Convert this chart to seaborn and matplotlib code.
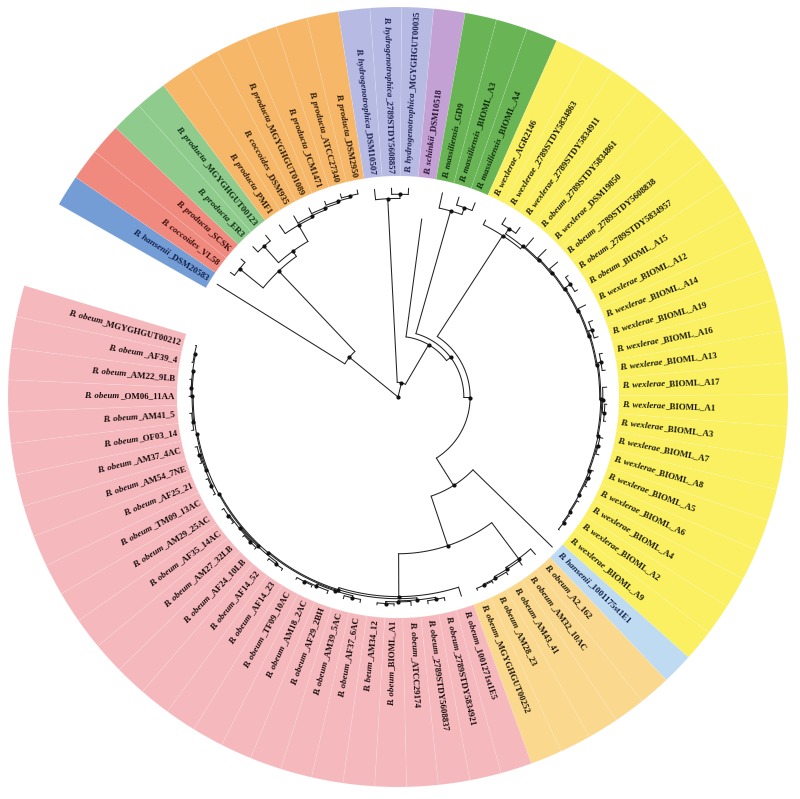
import numpy as np
import matplotlib
matplotlib.use("Agg")
import matplotlib.pyplot as plt
import seaborn as sns
from matplotlib.font_manager import FontProperties

# leaves, clockwise from the opening of the circle
species = ["B. hansenii", "B. coccoides", "B. producta", "B. producta", "B. producta",
           "B. producta", "B. coccoides", "B. producta", "B. producta", "B. producta", "B. producta",
           "B. hydrogenotrophica", "B. hydrogenotrophica", "B. hydrogenotrophica", "B. schinkii",
           "B. massiliensis", "B. massiliensis", "B. massiliensis",
           "B. wexlerae", "B. wexlerae", "B. wexlerae", "B. obeum", "B. wexlerae", "B. obeum",
           "B. obeum", "B. obeum", "B. wexlerae", "B. wexlerae", "B. wexlerae", "B. wexlerae",
           "B. wexlerae", "B. wexlerae", "B. wexlerae", "B. wexlerae", "B. wexlerae", "B. wexlerae",
           "B. wexlerae", "B. wexlerae", "B. wexlerae", "B. wexlerae", "B. wexlerae",
           "B. hansenii", "B. obeum", "B. obeum", "B. obeum", "B. obeum", "B. obeum",
           "B. obeum", "B. obeum", "B. obeum", "B. obeum", "B. obeum", "B. beum", "B. obeum",
           "B. obeum", "B. obeum", "B. obeum", "B. obeum", "B. obeum", "B. obeum", "B. obeum",
           "B. obeum", "B. obeum", "B. obeum", "B. obeum", "B. obeum", "B. obeum", "B. obeum",
           "B. obeum", "B. obeum", "B. obeum", "B. obeum", "B. obeum", "B. obeum"]
strains = ["_DSM20583", "_VL58", "_SCSK", "_ER3", "_MGYGHGUT00123",
           "_PMF1", "_DSM935", "_MGYGHGUT01089", "_JCM1471", "_ATCC27340", "_DSM2950",
           "_DSM10507", "_2789STDY5608857", "_MGYGHGUT00035", "_DSM10518",
           "_GD9", "_BIOML_A3", "_BIOML_A4",
           "_AGR2146", "_2789STDY5834863", "_2789STDY5834911", "_2789STDY5834861", "_DSM19850",
           "_2789STDY5608838", "_2789STDY5834957", "_BIOML_A15", "_BIOML_A12", "_BIOML_A14",
           "_BIOML_A19", "_BIOML_A16", "_BIOML_A13", "_BIOML_A17", "_BIOML_A1", "_BIOML_A3",
           "_BIOML_A7", "_BIOML_A8", "_BIOML_A5", "_BIOML_A6", "_BIOML_A4", "_BIOML_A2", "_BIOML_A9",
           "_1001175st1E1", "_A2_162", "_AM32_10AC", "_AM43_41", "_AM28_23", "_MGYGHGUT00252",
           "_1001271st1E5", "_2789STDY5834921", "_2789STDY5608837", "_ATCC29174", "_BIOML_A1",
           "_AM34_12", "_AF37_6AC", "_AM39_5AC", "_AF29_2BH", "_AM18_2AC", "_TF09_10AC",
           "_AF14_23", "_AF14_52", "_AF24_10LB", "_AM27_32LB", "_AF35_14AC", "_AM29_25AC",
           "_TM09_13AC", "_AF25_21", "_AM54_7NE", "_AM37_4AC", "_OF03_14", "_AM41_5",
           "_OM06_11AA", "_AM22_9LB", "_AF39_4", "_MGYGHGUT00212"]

# coloured clades (run lengths over the leaf order)
group_sizes = [1, 2, 2, 6, 3, 1, 3, 23, 1, 5, 27]
group_fill = ["#749dd6", "#f0897e", "#8ecb8d", "#f6b769", "#b7bbe4", "#c4a1d4",
              "#69b556", "#faf061", "#bfdbf1", "#fad88d", "#f5b9bd"]
group_text = ["#0e1f4a", "#3d0d0a", "#0f2e12", "#2b1a05", "#1b2050", "#2a1236",
              "#0f2a0a", "#1a1a08", "#0e1f4a", "#1f1808", "#1a0c0e"]

# tree, newick style: leaf = index in the lists above, number after ':' = distance from root
left_clade = ("(0:1.02,((1:1.0,2:1.0):0.975,((3:1.0,4:1.0):0.965,(5:1.0,(6:1.0,(7:1.0,(8:1.0,"
              "(9:1.01,10:1.01):0.99):0.98):0.97):0.96):0.95):0.86):0.83):0.30")
hydro_clade = "(11:1.0,(12:1.0,13:1.0):0.97):0.95"
mass_clade = "(15:1.0,(16:1.0,17:1.0):0.96):0.925"
yellow_clade = ("(18:0.945,((19:1.0,20:1.0):0.965,(21:1.0,(22:1.0,(23:1.0,((24:1.0,25:1.0):0.985,"
                "(26:1.0,((27:1.0,28:1.0):0.98,((29:1.0,30:1.0):0.985,((31:1.0,(32:1.0,33:1.0):0.99):0.98,"
                "((34:1.0,35:1.0):0.985,((36:1.0,37:1.0):0.99,(38:1.0,(39:1.0,40:1.0):0.995):0.99):0.985)"
                ":0.98):0.975):0.97):0.965):0.96):0.955):0.95):0.945):0.94):0.935):0.92")
lorange_clade = "(42:1.0,(43:1.0,(44:1.0,(45:1.0,46:1.0):0.99):0.985):0.975):0.965"
pink_clade = ("(47:1.0,(((48:1.0,49:1.0):0.985,(50:1.0,(51:1.0,52:1.0):0.99):0.98):0.975,"
              "(((53:1.0,54:1.0):0.985,(55:1.0,(56:1.0,57:1.0):0.99):0.985):0.975,"
              "(((58:1.0,59:1.0):0.99,((60:1.0,61:1.0):0.99,(62:1.0,63:1.0):0.99):0.985):0.98,"
              "(((64:1.0,65:1.0):0.99,(66:1.0,67:1.0):0.99):0.985,((68:1.0,69:1.0):0.99,"
              "((70:1.0,71:1.0):0.99,(72:1.0,73:1.0):0.995):0.99):0.985):0.98):0.975):0.97):0.965):0.955")
bottom_clade = "(41:1.03,(" + lorange_clade + "," + pink_clade + "):0.75):0.50"
right_clade = ("(" + hydro_clade + ",(14:0.86,(" + mass_clade + ",(" + yellow_clade + ","
               + bottom_clade + "):0.345):0.315):0.29):0.07")
tree_nwk = "(" + left_clade + "," + right_clade + "):0.0"


def parse(s):
    pos = 0

    def node():
        nonlocal pos
        if s[pos] == "(":
            pos += 1
            kids = [node()]
            while s[pos] == ",":
                pos += 1
                kids.append(node())
            pos += 1
        else:
            j = pos
            while s[pos] not in ":,)":
                pos += 1
            kids = int(s[j:pos])
        pos += 1
        j = pos
        while pos < len(s) and s[pos] not in ",)":
            pos += 1
        return kids, float(s[j:pos])

    return node()


sns.set_theme(style="white")
plt.rcParams["font.family"] = ["Liberation Serif", "DejaVu Serif"]

n = len(species)
R_TIP, R_IN, R_OUT, R_LAB = 209, 221, 390, 224
start = np.deg2rad(150.4)
step = np.deg2rad(347.0 / n)
theta = start - (np.arange(n) + 0.5) * step
leaf_group = np.repeat(np.arange(len(group_sizes)), group_sizes)

fig = plt.figure(figsize=(8, 7.99), dpi=100)
ax = fig.add_axes([-0.0025, 2 / 799, 1.0, 800 / 799], projection="polar")
ax.set_ylim(0, 400)
ax.axis("off")

ax.bar(theta, R_OUT - R_IN, width=step, bottom=R_IN,
       color=[group_fill[g] for g in leaf_group],
       edgecolor=(1, 1, 1, 0.15), linewidth=0.5, zorder=1)


def draw(nd):
    kids, depth = nd
    r = depth * R_TIP
    if isinstance(kids, int):
        return theta[kids], r
    pts = [draw(k) for k in kids]
    angs = [p[0] for p in pts]
    a = np.mean(angs)
    arc = np.linspace(min(angs), max(angs), 80)
    ax.plot(arc, np.full_like(arc, r), color="#222222", lw=0.75, zorder=3)
    for ka, kr in pts:
        ax.plot([ka, ka], [r, kr], color="#222222", lw=0.75, zorder=3)
    ax.plot(a, r, "o", ms=2.0, color="#111111", zorder=4)
    return a, r


draw(parse(tree_nwk))

renderer = fig.canvas.get_renderer()
fp_sp = FontProperties(family=["Liberation Serif"], weight="bold", style="italic", size=6.4)
fp_st = FontProperties(family=["Liberation Serif"], weight="bold", size=6.4)
for i in range(n):
    t = theta[i]
    deg = np.rad2deg(t)
    w_sp = renderer.get_text_width_height_descent(species[i], fp_sp, ismath=False)[0]
    w_st = renderer.get_text_width_height_descent(strains[i], fp_st, ismath=False)[0]
    col = group_text[leaf_group[i]]
    if np.cos(t) >= 0:
        rot = (deg + 90) % 180 - 90
        r_sp, r_st = R_LAB, R_LAB + w_sp
    else:
        rot = (deg - 180 + 90) % 180 - 90
        r_st = R_LAB + w_st
        r_sp = r_st + w_sp
    ax.text(t, r_sp, species[i], fontproperties=fp_sp, color=col, rotation=rot,
            rotation_mode="anchor", ha="left", va="center", zorder=5)
    ax.text(t, r_st, strains[i], fontproperties=fp_st, color=col, rotation=rot,
            rotation_mode="anchor", ha="left", va="center", zorder=5)

fig.savefig("out.png", dpi=100)
